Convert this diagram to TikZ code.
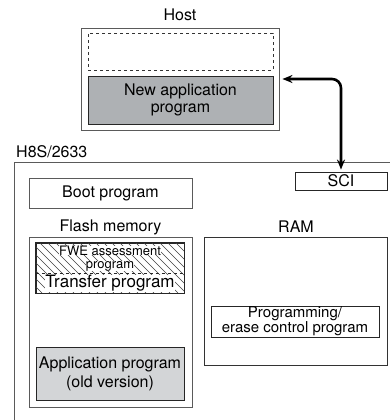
\documentclass[tikz,border=0pt]{standalone}
\usepackage{fontspec}
\setmainfont{TeX Gyre Heros}
\usetikzlibrary{arrows.meta}
\definecolor{edgegray}{HTML}{5A5A5A}
\definecolor{darkfill}{HTML}{AEB1B4}
\definecolor{lightfill}{HTML}{D3D5D7}
\begin{document}
\begin{tikzpicture}[x=1pt,y=-1pt,
  lbl/.style={font=\fontsize{16}{18}\selectfont, inner sep=0pt},
  outerbox/.style={draw=edgegray, line width=0.9pt, inner sep=0pt},
  innerbox/.style={draw=black!85, line width=0.9pt, inner sep=0pt, align=center},
  hatchline/.style={line width=0.45pt, black!75},
  smalltxt/.style={fill=white, inner sep=0pt, font=\fontsize{13}{13}\selectfont}]
\useasboundingbox (0,0) rectangle (390,420);
\begin{scope}
\clip (0,0) rectangle (390,420);
% H8S outer box (clipped at right and bottom)
\draw[edgegray, line width=1pt] (14,430) -- (14,162) -- (400,162);
\end{scope}
% Host
\node[lbl] (hostlbl) at (180,15) {Host};
\node[outerbox, minimum width=198pt, minimum height=102pt] (host) at (180,79) {};
\node[draw=black!80, dashed, line width=0.8pt, minimum width=185pt, minimum height=37pt, inner sep=0pt] (blank) at (180.5,51.5) {};
\node[innerbox, fill=darkfill, minimum width=185pt, minimum height=48pt, font=\fontsize{16}{18}\selectfont] (newapp) at (180.5,100) {New application\\[-1pt]program};
% H8S label
\node[lbl, anchor=west] (h8s) at (16,152) {H8S/2633};
% SCI
\node[innerbox, minimum width=92pt, minimum height=18pt, font=\fontsize{16}{18}\selectfont] (sci) at (341,181) {SCI};
% Boot program
\node[outerbox, minimum width=163pt, minimum height=30pt, font=\fontsize{16}{18}\selectfont] (boot) at (110.5,193) {Boot program};
% Labels
\node[lbl] (flashlbl) at (110.5,227) {Flash memory};
\node[lbl] (ramlbl) at (296,227) {RAM};
% Flash memory box
\node[outerbox, minimum width=163pt, minimum height=170pt] (flash) at (110.5,322) {};
% Hatched region
\node[innerbox, minimum width=148pt, minimum height=50pt] (hatch) at (110,268) {};
\begin{scope}
\clip (hatch.south west) rectangle (hatch.north east);
\foreach \i in {-60,-52,...,160} {
  \draw[hatchline] (36+\i,243) -- (36+\i+50,293);
}
\end{scope}
\draw[black!85, dashed, line width=0.6pt] (hatch.west |- 0,273) -- (hatch.east |- 0,273);
\draw[innerbox] (hatch.south west) rectangle (hatch.north east);
\node[smalltxt] (fwe1) at (110,250.5) {FWE assessment};
\node[smalltxt] (fwe2) at (110,266) {program};
\node[fill=white, inner sep=0.3pt, font=\fontsize{17}{18}\selectfont] (transfer) at (110,283.5) {Transfer program};
% Application old
\node[innerbox, fill=lightfill, minimum width=148pt, minimum height=53pt, font=\fontsize{16}{19}\selectfont] (oldapp) at (110,373.5) {Application program\\(old version)};
% RAM
\node[outerbox, draw=black!80, minimum width=183pt, minimum height=128pt] (ram) at (295.5,301) {};
\node[innerbox, minimum width=168pt, minimum height=31pt, font=\fontsize{15}{13}\selectfont] (pe) at (295,321.5) {Programming/\\erase control program};
% Arrow
\draw[line width=2.6pt, rounded corners=9pt, {Stealth[length=10pt,width=8pt]}-{Stealth[length=10pt,width=8pt]}, shorten <=2pt, shorten >=3pt] (sci.north) |- (host.east);
\end{tikzpicture}
\end{document}
